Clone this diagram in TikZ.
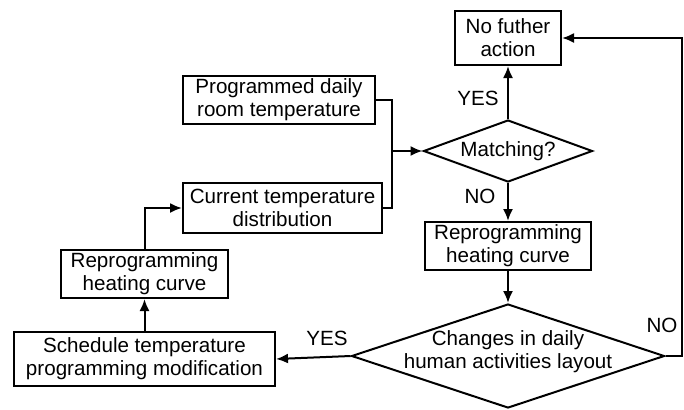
\documentclass[tikz,border=0pt]{standalone}
\usepackage{fontspec}
\setmainfont{Liberation Sans}
\usetikzlibrary{shapes.geometric, arrows.meta}

\begin{document}
\begin{tikzpicture}[x=0.5pt, y=-0.5pt, line width=1pt, >={Latex[length=6pt,width=5pt]},
	font=\fontsize{10.3}{11.5}\selectfont,
	box/.style={draw, align=center, inner sep=0pt},
	decision/.style={draw, diamond, inner sep=0pt},
	tag/.style={inner sep=0pt}]
	\useasboundingbox (0,0) rectangle (684,409);
	\node[box, minimum width=53pt, minimum height=27pt] (further) at (508,38) {No futher\\action};
	\node[box, minimum width=96pt, minimum height=24pt] (programmed) at (279,100) {Programmed daily\\room temperature};
	\node[box, minimum width=99.5pt, minimum height=25pt] (current) at (282.5,208) {Current temperature\\distribution};
	\node[decision, minimum width=84.5pt, minimum height=31pt,
		label={[inner sep=0pt]center:Matching?}] (match) at (508,151) {};
	\node[box, minimum width=83pt, minimum height=24pt] (rightrep) at (508,246) {Reprogramming\\heating curve};
	\node[box, minimum width=83.5pt, minimum height=24pt] (leftrep) at (144.5,274) {Reprogramming\\heating curve};
	\node[box, minimum width=130.5pt, minimum height=27pt] (schedule) at (144.5,359) {Schedule temperature\\programming modification};
	\node[decision, minimum width=156.5pt, minimum height=52pt,
		label={[align=center, inner sep=0pt, yshift=2pt]center:Changes in daily\\human activities layout}] (change) at (508,356) {};
	% labels on the branches
	\node[tag] (yesup) at (478,98) {YES};
	\node[tag] (noup) at (480,196) {NO};
	\node[tag] (yesleft) at (327,338) {YES};
	\node[tag] (noright) at (662,325) {NO};
	\coordinate (join) at (392,151);
	\coordinate (turn) at (682,356);
	\draw (programmed.east) -| (join) |- (current.east);
	\draw[->] (join) -- (match.west);
	\draw[->] (match.north) -- (further.south);
	\draw[->] (match.south) -- (rightrep.north);
	\draw[->] (rightrep.south) -- (change.north);
	\draw[->] (change.west) -- (schedule.east);
	\draw[->] (change.east) -- (turn) |- (further.east);
	\draw[->] (schedule.north) -- (leftrep.south);
	\draw[->] (leftrep.north) |- (current.west);
\end{tikzpicture}
\end{document}
